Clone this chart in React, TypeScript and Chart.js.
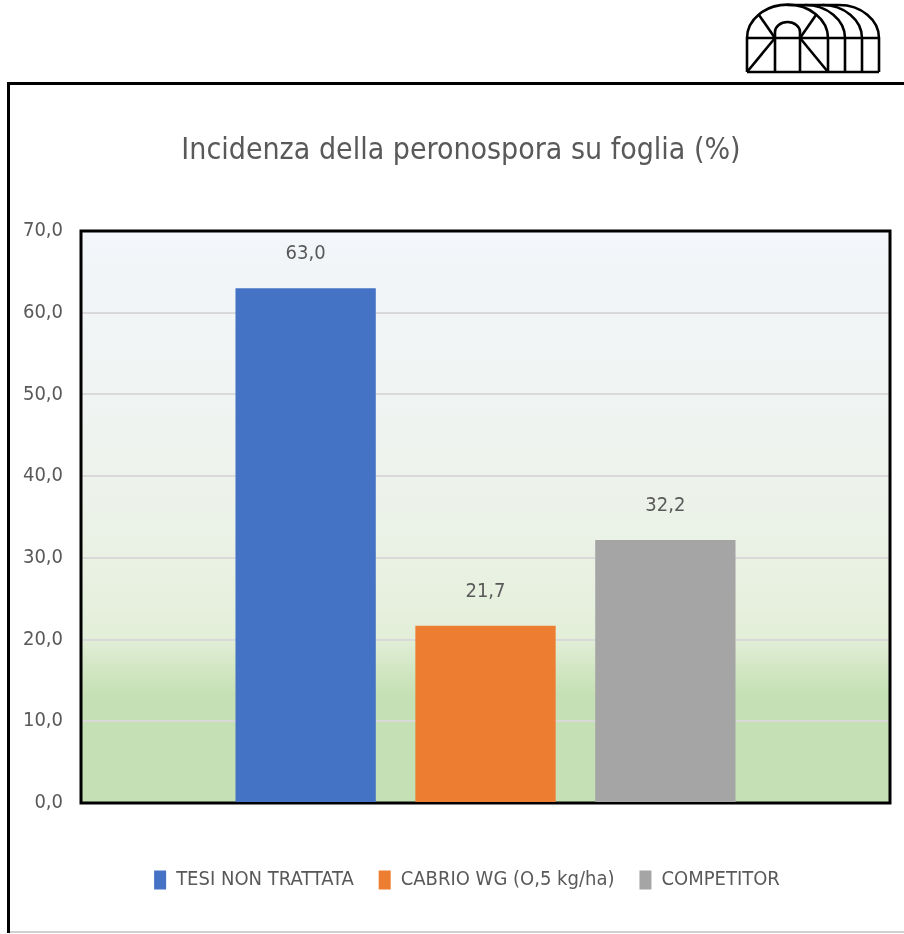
import React, { useEffect, useRef } from "react";
import { Chart, registerables } from "chart.js";

Chart.register(...registerables);

const TITLE = "Incidenza della peronospora su foglia (%)";
const CATEGORIES = [""];
const SERIES_LABELS = ["TESI NON TRATTATA", "CABRIO WG (O,5 kg/ha)", "COMPETITOR"];
const SERIES_VALUES = [63.0, 21.7, 32.2];
const SERIES_COLORS = ["#4472c4", "#ed7d31", "#a5a5a5"];
const Y_MIN = 0;
const Y_MAX = 70;
const Y_STEP = 10;

const FONT = "'Liberation Sans Narrow', 'Arial Narrow', 'DejaVu Sans Condensed', sans-serif";
const TEXT_COLOR = "#595959";

const fmt = (v: number) => v.toFixed(1).replace(".", ",");

const plotBgPlugin = {
  id: "plotBg",
  beforeDraw(chart: any) {
    const { ctx, chartArea } = chart;
    if (!chartArea) return;
    const { left, top, right, bottom } = chartArea;
    const g = ctx.createLinearGradient(0, top, 0, bottom);
    g.addColorStop(0, "#f3f6fa");
    g.addColorStop(0.35, "#eff3f0");
    g.addColorStop(0.6, "#e9f1e2");
    g.addColorStop(0.71, "#e3efd9");
    g.addColorStop(0.76, "#d3e7c5");
    g.addColorStop(0.81, "#c6e0b5");
    g.addColorStop(1, "#c5e0b4");
    ctx.save();
    ctx.fillStyle = g;
    ctx.fillRect(left, top, right - left, bottom - top);
    ctx.restore();
  },
  beforeDatasetsDraw(chart: any) {
    const { ctx, chartArea } = chart;
    const { left, top, right, bottom } = chartArea;
    ctx.save();
    ctx.strokeStyle = "#000000";
    ctx.lineWidth = 3;
    ctx.strokeRect(left, top, right - left, bottom - top);
    ctx.restore();
  },
};

const valueLabelPlugin = {
  id: "valueLabels",
  afterDatasetsDraw(chart: any) {
    const { ctx } = chart;
    ctx.save();
    ctx.font = `20px ${FONT}`;
    ctx.fillStyle = TEXT_COLOR;
    ctx.textAlign = "center";
    ctx.textBaseline = "middle";
    chart.data.datasets.forEach((ds: any, i: number) => {
      const meta = chart.getDatasetMeta(i);
      meta.data.forEach((el: any, j: number) => {
        const v = ds.data[j];
        ctx.fillText(fmt(v), el.x, el.y - 34);
      });
    });
    ctx.restore();
  },
};

// nudge the centred title / legend boxes to match the reference placement
const boxShiftPlugin = {
  id: "boxShift",
  afterLayout(chart: any) {
    const l = chart.legend;
    if (l) {
      l.left += 12;
      l.right += 12;
    }
    const t = chart.titleBlock;
    if (t) {
      t.left += 6;
      t.right += 6;
    }
  },
};

function ChartCanvas() {
  const ref = useRef<HTMLCanvasElement | null>(null);
  useEffect(() => {
    if (!ref.current) return;
    const chart = new Chart(ref.current, {
      type: "bar",
      data: {
        labels: CATEGORIES,
        datasets: SERIES_LABELS.map((label, i) => ({
          label,
          data: [SERIES_VALUES[i]],
          backgroundColor: SERIES_COLORS[i],
          borderWidth: 0,
          categoryPercentage: 0.667,
          barPercentage: 0.78,
        })),
      },
      options: {
        animation: false,
        responsive: false,
        maintainAspectRatio: false,
        layout: { padding: { left: 10, right: 14, top: 0, bottom: 30 } },
        plugins: {
          tooltip: { enabled: false },
          title: {
            display: true,
            text: TITLE,
            color: TEXT_COLOR,
            font: { family: FONT, size: 30, weight: "normal" as any, lineHeight: 1.2 },
            padding: { top: 48, bottom: 62 },
          },
          legend: {
            display: true,
            position: "bottom",
            align: "center",
            labels: {
              color: TEXT_COLOR,
              font: { family: FONT, size: 20 },
              boxWidth: 12,
              boxHeight: 19,
              padding: 25,
            },
          },
        },
        scales: {
          x: {
            display: true,
            ticks: { display: false },
            grid: { display: false, drawTicks: false },
            border: { display: false },
            afterFit: (s: any) => {
              s.height = 42;
            },
          },
          y: {
            min: Y_MIN,
            max: Y_MAX,
            ticks: {
              stepSize: Y_STEP,
              color: TEXT_COLOR,
              font: { family: FONT, size: 20 },
              padding: 18,
              callback: (v: any) => fmt(Number(v)),
            },
            grid: { color: "#d9d9d9", lineWidth: 2, drawTicks: false },
            border: { display: false },
            afterFit: (s: any) => {
              s.width = 61;
            },
          },
        },
      },
      plugins: [plotBgPlugin, valueLabelPlugin, boxShiftPlugin],
    });
    return () => chart.destroy();
  }, []);
  return <canvas ref={ref} width={894} height={845} style={{ display: "block", width: 894, height: 845 }} />;
}

function Logo() {
  return (
    <svg width={140} height={76} viewBox="0 0 140 76" style={{ position: "absolute", left: 742, top: 0 }}>
      <g fill="none" stroke="#000" strokeWidth={2.6} strokeLinejoin="round">
        <path d="M103 38 A40 33 0 0 0 63 5" />
        <path d="M120 38 A40 33 0 0 0 80 5" />
        <path d="M137 38 A40 33 0 0 0 97 5" />
        <line x1={45} y1={5} x2={97} y2={5} />
        <path d="M5 38 A40 33 0 0 1 86 38" />
        <line x1={5} y1={38} x2={137} y2={38} />
        <line x1={5} y1={72} x2={137} y2={72} />
        <line x1={5} y1={38} x2={5} y2={72} />
        <line x1={137} y1={38} x2={137} y2={72} />
        <line x1={86} y1={38} x2={86} y2={72} />
        <line x1={103} y1={38} x2={103} y2={72} />
        <line x1={120} y1={38} x2={120} y2={72} />
        <path d="M33 72 L33 32 A12.5 10 0 0 1 58 32 L58 72" />
        <line x1={5} y1={72} x2={33} y2={38} />
        <line x1={58} y1={38} x2={86} y2={72} />
        <line x1={17} y1={15} x2={33} y2={38} />
        <line x1={74} y1={15} x2={58} y2={38} />
      </g>
    </svg>
  );
}

export default function App() {
  return (
    <div style={{ position: "absolute", left: 0, top: 0, width: 904, height: 934, background: "#ffffff", overflow: "hidden" }}>
      <Logo />
      <div style={{ position: "absolute", left: 7, top: 82, width: 897, height: 3, background: "#000" }} />
      <div style={{ position: "absolute", left: 7, top: 82, width: 3, height: 851, background: "#000" }} />
      <div style={{ position: "absolute", left: 10, top: 931, width: 894, height: 2, background: "#d0d0d0" }} />
      <div style={{ position: "absolute", left: 10, top: 85 }}>
        <ChartCanvas />
      </div>
    </div>
  );
}
